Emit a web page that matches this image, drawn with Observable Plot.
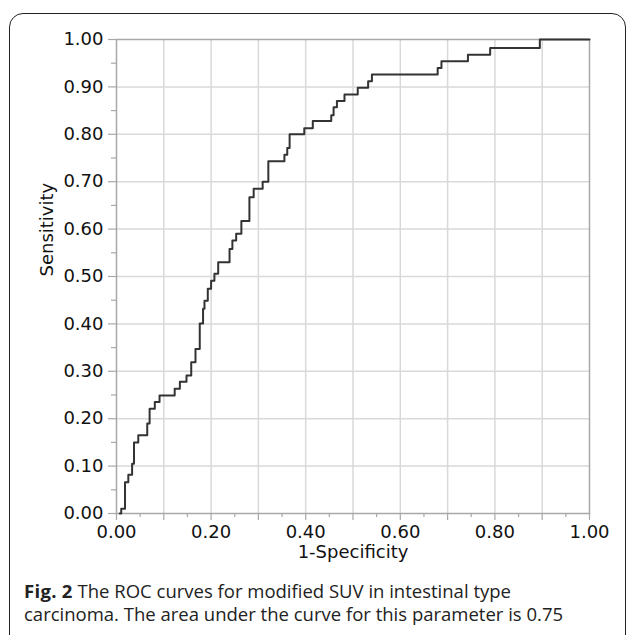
<!DOCTYPE html>
<html>
<head>
<meta charset="utf-8">
<script src="https://cdn.jsdelivr.net/npm/d3@7"></script>
<script src="https://cdn.jsdelivr.net/npm/@observablehq/plot@0.6"></script>
<style>
  html, body { margin: 0; padding: 0; background: #fff; }
  body { width: 627px; height: 635px; position: relative; overflow: hidden; }
  #frame { position: absolute; left: 9px; top: 13px; width: 617px; height: 660px; box-sizing: border-box;
           border: 1.6px solid #222; border-radius: 14px; }
  #chart { position: absolute; left: 0; top: 0; }
  #caption { position: absolute; left: 24px; top: 579px; font-family: "Open Sans", sans-serif; font-size: 18.5px;
             line-height: 23px; color: #222; white-space: nowrap; }
  #caption b { letter-spacing: 0.3px; }
</style>
</head>
<body>
<div id="frame"></div>
<div id="chart"></div>
<div id="caption"><b>Fig. 2</b> The ROC curves for modified SUV in intestinal type<br>carcinoma. The area under the curve for this parameter is 0.75</div>
<script>
// ROC curve vertices (1-Specificity, Sensitivity), step-after
const fpr = [0.007, 0.010, 0.018, 0.025, 0.033, 0.037, 0.046, 0.065, 0.070, 0.081, 0.091, 0.123, 0.134, 0.148, 0.158, 0.167, 0.176, 0.183, 0.186, 0.193, 0.200, 0.207, 0.215, 0.239, 0.245, 0.253, 0.264, 0.281, 0.290, 0.309, 0.321, 0.355, 0.361, 0.366, 0.397, 0.415, 0.454, 0.459, 0.466, 0.482, 0.510, 0.532, 0.540, 0.679, 0.687, 0.743, 0.790, 0.895, 1.000];
const tpr = [0.000, 0.010, 0.066, 0.082, 0.105, 0.150, 0.165, 0.190, 0.221, 0.235, 0.249, 0.263, 0.278, 0.291, 0.319, 0.347, 0.401, 0.432, 0.449, 0.474, 0.491, 0.506, 0.530, 0.558, 0.576, 0.590, 0.617, 0.667, 0.685, 0.700, 0.743, 0.757, 0.771, 0.800, 0.813, 0.828, 0.840, 0.857, 0.870, 0.884, 0.898, 0.912, 0.926, 0.940, 0.954, 0.968, 0.982, 1.000, 1.000];
const xLabelTicks = [0, 0.2, 0.4, 0.6, 0.8, 1.0];
const yLabelTicks = [0, 0.1, 0.2, 0.3, 0.4, 0.5, 0.6, 0.7, 0.8, 0.9, 1.0];
const gridTicks = [0.1, 0.2, 0.3, 0.4, 0.5, 0.6, 0.7, 0.8, 0.9];
const majorTicks = [0, 0.1, 0.2, 0.3, 0.4, 0.5, 0.6, 0.7, 0.8, 0.9, 1.0];
const minorTicks = [0.05, 0.15, 0.25, 0.35, 0.45, 0.55, 0.65, 0.75, 0.85, 0.95];
const xTitle = "1-Specificity";
const yTitle = "Sensitivity";

const data = fpr.map((x, i) => ({x, y: tpr[i]}));
const fmt = d3.format(".2f");

const chart = Plot.plot({
  width: 627,
  height: 575,
  marginLeft: 116,
  marginRight: 38,
  marginTop: 39,
  marginBottom: 62,
  style: {fontFamily: "DejaVu Sans, Verdana, sans-serif", fontSize: "18px", color: "#111", background: "transparent"},
  x: {domain: [0, 1], axis: null},
  y: {domain: [0, 1], axis: null},
  marks: [
    Plot.gridX(gridTicks, {stroke: "#d9d9d9", strokeOpacity: 1, strokeWidth: 1.5}),
    Plot.gridY(gridTicks, {stroke: "#d9d9d9", strokeOpacity: 1, strokeWidth: 1.5}),
    Plot.frame({stroke: "#a8a8a8", strokeWidth: 1.5}),
    Plot.axisX(majorTicks, {tickSize: 7, text: null, label: null, stroke: "#a8a8a8", strokeWidth: 1.2}),
    Plot.axisX(minorTicks, {tickSize: 4, text: null, label: null, stroke: "#a8a8a8", strokeWidth: 1.2}),
    Plot.axisX(xLabelTicks, {tickSize: 0, tickPadding: 12, tickFormat: fmt, fill: "#111", label: null}),
    Plot.axisY(majorTicks, {tickSize: 8, text: null, label: null, stroke: "#a8a8a8", strokeWidth: 1.2}),
    Plot.axisY(minorTicks, {tickSize: 5, text: null, label: null, stroke: "#a8a8a8", strokeWidth: 1.2}),
    Plot.axisY(yLabelTicks, {tickSize: 0, tickPadding: 13, tickFormat: fmt, fill: "#111", label: null}),
    Plot.line(data, {x: "x", y: "y", curve: "step-after", stroke: "#333", strokeWidth: 2}),
    Plot.text([xTitle], {frameAnchor: "bottom", dy: 44, fill: "#111"}),
    Plot.text([yTitle], {frameAnchor: "left", dx: -69, rotate: -90, fill: "#111"})
  ]
});
document.getElementById("chart").appendChild(chart);
</script>
</body>
</html>
